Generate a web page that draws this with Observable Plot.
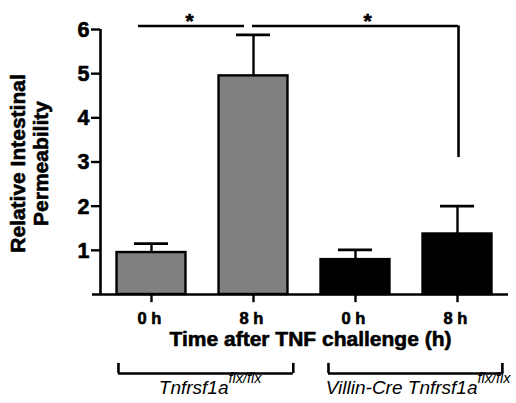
<!DOCTYPE html>
<html>
<head>
<meta charset="utf-8">
<script src="https://cdn.jsdelivr.net/npm/d3@7"></script>
<script src="https://cdn.jsdelivr.net/npm/@observablehq/plot@0.6"></script>
<style>
  html, body { margin: 0; padding: 0; background: #fff; }
  svg { font-family: "Liberation Sans", Arial, sans-serif; }
</style>
</head>
<body>
<div id="chart"></div>
<script>
// ---- data ----
const timeLabels = ["0 h", "8 h", "0 h", "8 h"];
const genotypes = ["Tnfrsf1a", "Tnfrsf1a", "Villin-Cre Tnfrsf1a", "Villin-Cre Tnfrsf1a"];
const means = [0.95, 4.95, 0.79, 1.37];
const errors = [0.20, 0.93, 0.22, 0.63];
const barColors = ["#808080", "#808080", "#000000", "#000000"];
const yTicks = [1, 2, 3, 4, 5, 6];
const groupNames = ["Tnfrsf1a", "Villin-Cre Tnfrsf1a"];
const groupSuperscript = "flx/flx";
const xTitle = "Time after TNF challenge (h)";
const yTitle = "Relative Intestinal\nPermeability";
// significance comparisons (bar indices)
const sigFrom = [0, 1];
const sigTo = [1, 3];
const sigLabel = ["*", "*"];

const bars = means.map((m, i) => ({i, label: timeLabels[i], mean: m, upper: m + errors[i], color: barColors[i]}));

const half = 0.338;      // half bar width in band units
const capHalf = 0.167;   // half cap width
const sigY = 6.08;

const brackets = [
  {x1: sigFrom[0] - 0.127, x2: sigTo[0] - 0.088},
  {x1: sigFrom[1] - 0.01, x2: sigTo[1] + 0.01}
];
const stars = [
  {x: 0.373, label: sigLabel[0]},
  {x: 2.118, label: sigLabel[1]}
];
const groups = [
  {x1: -0.324, x2: 1.39, junction: 0.755, name: groupNames[0]},
  {x1: 1.735, x2: 3.44, junction: 3.196, name: groupNames[1]}
];

const black = "#000";
const heavy = {fontWeight: "bold", fill: black, stroke: black, strokeWidth: 0.6};
const plot = Plot.plot({
  width: 516,
  height: 403,
  marginLeft: 100,
  marginRight: 8,
  marginTop: 29,
  marginBottom: 109,
  x: {type: "linear", domain: [-0.5, 3.5], axis: null},
  y: {domain: [0, 6], axis: null},
  marks: [
    // bars
    Plot.rectY(bars, {x1: d => d.i - half, x2: d => d.i + half, y1: 0, y2: "mean", fill: "color", stroke: black, strokeWidth: 2.4}),
    // error bars
    Plot.ruleX(bars, {x: "i", y1: "mean", y2: "upper", stroke: black, strokeWidth: 2.4}),
    Plot.ruleY(bars, {y: "upper", x1: d => d.i - capHalf, x2: d => d.i + capHalf, stroke: black, strokeWidth: 2.8}),
    // axis lines
    Plot.ruleX([-0.5], {y1: 0, y2: 6, stroke: black, strokeWidth: 2.6}),
    Plot.ruleY([0], {x1: -0.5, x2: 3.5, insetLeft: -8, stroke: black, strokeWidth: 2.6}),
    // y ticks + labels
    Plot.ruleY(yTicks, {x1: -0.5, x2: -0.5, insetLeft: -9, stroke: black, strokeWidth: 2.4}),
    Plot.text(yTicks, {x: -0.5, y: d => d, text: d => String(d), dx: -11, dy: 0.5, textAnchor: "end", lineAnchor: "middle", fontSize: 21.5, ...heavy}),
    // x ticks + labels
    Plot.ruleX(bars, {x: "i", y1: 0, y2: -0.185, stroke: black, strokeWidth: 2.4}),
    Plot.text(bars, {x: "i", y: 0, text: "label", dx: -2, dy: 29, lineAnchor: "bottom", fontSize: 16.5, ...heavy}),
    // x title
    Plot.text([xTitle], {x: 1.5, y: 0, dx: 6, dy: 51, lineAnchor: "bottom", fontSize: 21, ...heavy}),
    // y title
    Plot.text([yTitle], {x: -0.5, y: 2.966, dx: -71, rotate: -90, lineAnchor: "middle", lineHeight: 1.1, fontSize: 21, ...heavy}),
    // significance brackets
    Plot.ruleY(brackets, {x1: "x1", x2: "x2", y: sigY, stroke: black, strokeWidth: 2.6}),
    Plot.ruleX([brackets[1]], {x: "x2", y1: 3.1, y2: sigY, stroke: black, strokeWidth: 2.6}),
    Plot.text(stars, {x: "x", y: sigY, text: "label", dy: 2, lineAnchor: "bottom", fontSize: 21, ...heavy}),
    // genotype brackets
    Plot.ruleY(groups, {x1: "x1", x2: "x2", y: -1.79, stroke: black, strokeWidth: 2.6}),
    Plot.ruleX(groups, {x: "x1", y1: -1.79, y2: -1.56, stroke: black, strokeWidth: 2.6}),
    Plot.ruleX(groups, {x: "x2", y1: -1.79, y2: -1.56, stroke: black, strokeWidth: 2.6}),
    Plot.text(groups, {x: "junction", y: -2.264, text: "name", textAnchor: "end", lineAnchor: "bottom", fontSize: 19, fontStyle: "italic", fill: black}),
    Plot.text(groups, {x: "junction", y: -2.0, text: () => groupSuperscript, textAnchor: "start", lineAnchor: "bottom", fontSize: 14.5, fontStyle: "italic", fill: black})
  ]
});
document.getElementById("chart").appendChild(plot);
</script>
</body>
</html>
